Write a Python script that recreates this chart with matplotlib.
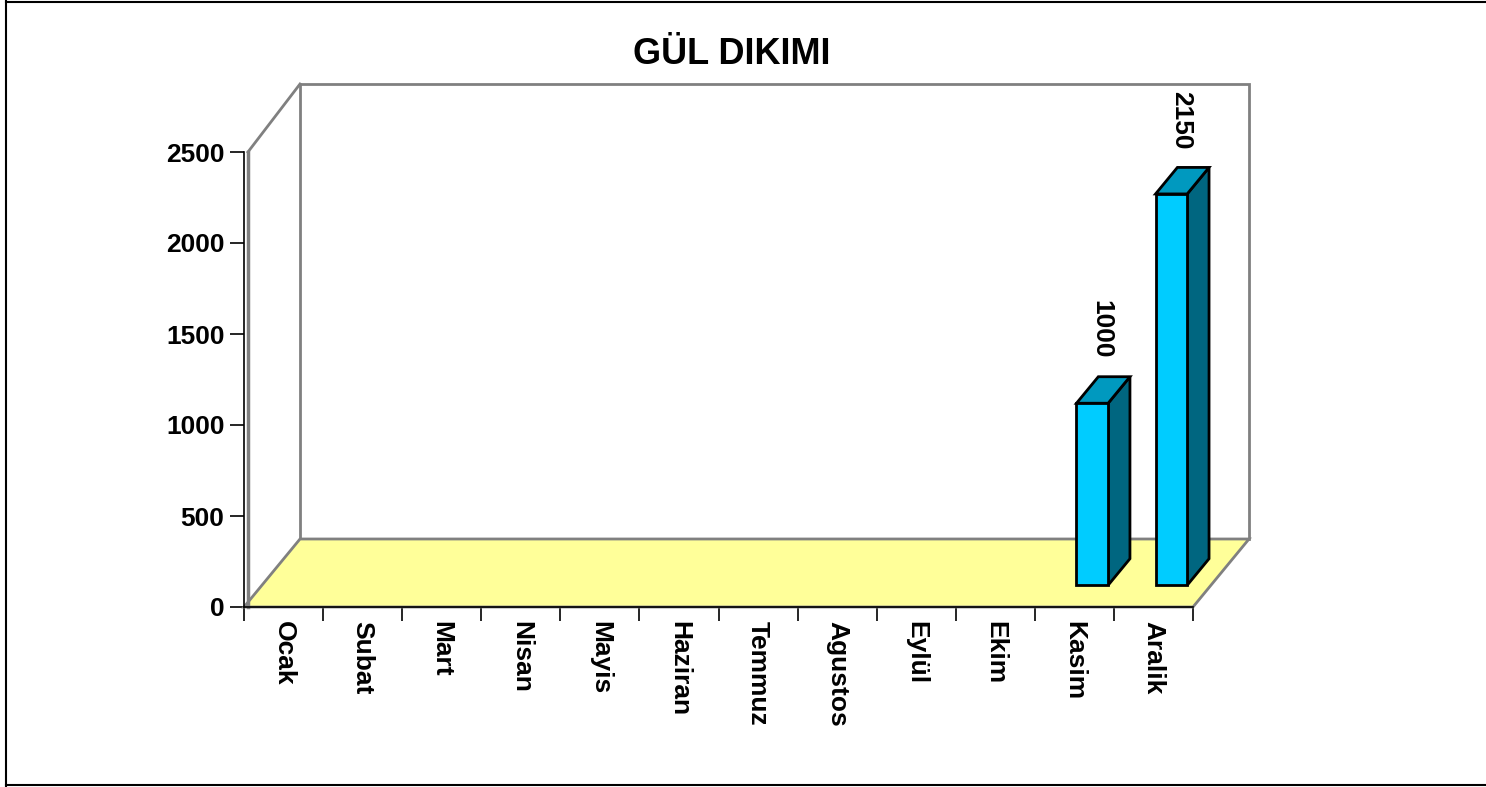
import matplotlib.pyplot as plt
from matplotlib.patches import Polygon, Rectangle
from matplotlib.lines import Line2D

plt.rcParams['font.family'] = ['Liberation Sans', 'DejaVu Sans']
plt.rcParams['font.weight'] = 'bold'

title = "GÜL DIKIMI"
months = ["Ocak", "Subat", "Mart", "Nisan", "Mayis", "Haziran",
          "Temmuz", "Agustos", "Eylül", "Ekim", "Kasim", "Aralik"]
values = [0, 0, 0, 0, 0, 0, 0, 0, 0, 0, 1000, 2150]
y_ticks = [0, 500, 1000, 1500, 2000, 2500]

W, H = 1486, 787
fig = plt.figure(figsize=(W / 100, H / 100), dpi=100)

# front plane of the pseudo-3d box, in pixel terms
left_px, right_px, top_px, bottom_px = 244, 1193, 152, 607
ax = fig.add_axes([left_px / W, 1 - bottom_px / H,
                   (right_px - left_px) / W, (bottom_px - top_px) / H])
n = len(months)
ymax = y_ticks[-1]
ax.set_xlim(0, n)
ax.set_ylim(0, ymax)

# depth of the box expressed in data units (56 px right, 68 px up)
px_x = (right_px - left_px) / n
px_y = (bottom_px - top_px) / ymax
DX, DY = 56 / px_x, 68 / px_y

grey = "#808080"
floor_c = "#FFFF99"

# back wall
ax.add_patch(Rectangle((DX, DY), n, ymax, facecolor="white",
                       edgecolor=grey, lw=2, clip_on=False, zorder=1))
# floor
ax.add_patch(Polygon([(0, 0), (n, 0), (n + DX, DY), (DX, DY)], closed=True,
                     facecolor=floor_c, edgecolor=grey, lw=2, clip_on=False, zorder=2))
# left side wall edges
ax.add_line(Line2D([0.05, 0.05], [0, ymax], color=grey, lw=2.5, clip_on=False, zorder=2))
ax.add_line(Line2D([0.05, DX], [ymax, ymax + DY], color=grey, lw=2, clip_on=False, zorder=2))

# bars
f0, f1 = 0.32, 0.71
bw = 0.4
front_c, top_c, side_c = "#00CCFF", "#0099BF", "#006680"
for i, v in enumerate(values):
    if v <= 0:
        continue
    x0 = i + 0.5 - bw / 2 + f0 * DX
    x1 = x0 + bw
    y0 = f0 * DY
    y1 = v + f0 * DY
    ddx, ddy = (f1 - f0) * DX, (f1 - f0) * DY
    kw = dict(closed=True, edgecolor="black", lw=2, clip_on=False, zorder=5, joinstyle="miter")
    ax.add_patch(Polygon([(x1, y0), (x1 + ddx, y0 + ddy), (x1 + ddx, y1 + ddy), (x1, y1)],
                         facecolor=side_c, **kw))
    ax.add_patch(Polygon([(x0, y1), (x1, y1), (x1 + ddx, y1 + ddy), (x0 + ddx, y1 + ddy)],
                         facecolor=top_c, **kw))
    ax.add_patch(Polygon([(x0, y0), (x1, y0), (x1, y1), (x0, y1)],
                         facecolor=front_c, **kw))
    ax.annotate(str(v), xy=((x0 + x1) / 2 + ddx / 2, y1 + ddy), xytext=(-1, 13),
                textcoords="offset points", rotation=-90, ha="center", va="bottom",
                fontsize=19, fontweight="bold", zorder=6)

# axes
for s in ["top", "right"]:
    ax.spines[s].set_visible(False)
ax.spines["left"].set_linewidth(1.2)
ax.spines["bottom"].set_linewidth(1.2)
ax.set_yticks(y_ticks)
ax.set_yticklabels([str(t) for t in y_ticks], fontsize=19, fontweight="bold")
ax.set_xticks(range(n + 1))
ax.set_xticklabels([])
ax.set_xticks([i + 0.5 for i in range(n)], minor=True)
ax.set_xticklabels(months, minor=True, rotation=-90, fontsize=19, fontweight="bold",
                   va="top", ha="center")
ax.tick_params(axis="x", which="major", direction="out", length=10, width=1.2)
ax.tick_params(axis="x", which="minor", length=0, pad=10)
ax.tick_params(axis="y", direction="out", length=10, width=1.2, pad=4)
ax.patch.set_visible(False)

fig.text(732 / W, 1 - 55 / H, title, ha="center", va="center", fontsize=26, fontweight="bold")

# outer border (left, top, bottom)
fig.add_artist(Line2D([6 / W, 6 / W], [1 / H, 1 - 1 / H], color="black", lw=1.5,
                      transform=fig.transFigure))
fig.add_artist(Line2D([6 / W, 1], [1 - 1.5 / H, 1 - 1.5 / H], color="black", lw=1.5,
                      transform=fig.transFigure))
fig.add_artist(Line2D([6 / W, 1], [2 / H, 2 / H], color="black", lw=1.5,
                      transform=fig.transFigure))

fig.savefig("out.png", dpi=100, facecolor="white")
